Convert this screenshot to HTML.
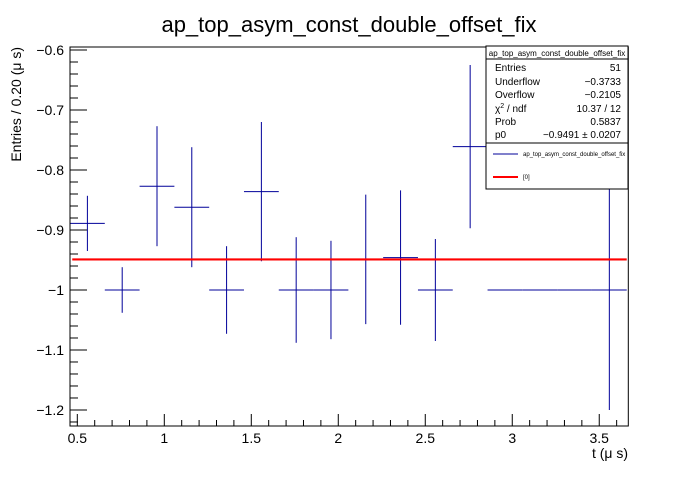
<!DOCTYPE html>
<html><head><meta charset="utf-8"><style>
body{margin:0;background:#fff;}
svg text{font-family:"Liberation Sans",sans-serif;}
</style></head><body>
<svg id="c" width="698" height="474" viewBox="0 0 698 474" xmlns="http://www.w3.org/2000/svg">
<text x="349" y="32" font-size="22" text-anchor="middle">ap_top_asym_const_double_offset_fix</text>
<g id="axes"></g>
<g id="marks"></g>
<rect x="70" y="47" width="558.3" height="379" fill="none" stroke="#000" stroke-width="1"/>
<text x="628" y="458" font-size="14" text-anchor="end">t (μ s)</text>
<text transform="translate(21,47) rotate(-90)" font-size="14" text-anchor="end">Entries / 0.20 (μ s)</text>
<g>
<rect x="486" y="46" width="142" height="143" fill="#fff" stroke="#000"/>
<line x1="486" y1="59" x2="628" y2="59" stroke="#000"/>
<text x="557" y="56" font-size="8" text-anchor="middle">ap_top_asym_const_double_offset_fix</text>
<g font-size="10">
<text x="495" y="71">Entries</text><text x="621" y="71" text-anchor="end">51</text>
<text x="495" y="85">Underflow</text><text x="621" y="85" text-anchor="end">−0.3733</text>
<text x="495" y="98">Overflow</text><text x="621" y="98" text-anchor="end">−0.2105</text>
<text x="495" y="112">χ<tspan font-size="7" dy="-4">2</tspan><tspan dy="4"> / ndf</tspan></text><text x="621" y="112" text-anchor="end">10.37 / 12</text>
<text x="495" y="125">Prob</text><text x="621" y="125" text-anchor="end">0.5837</text>
<text x="495" y="138">p0</text><text x="621" y="138" text-anchor="end">−0.9491 ± 0.0207</text>
</g>
<line x1="486" y1="143" x2="628" y2="143" stroke="#000"/>
<line x1="493" y1="154" x2="518" y2="154" stroke="#000099" stroke-width="1"/>
<text x="523" y="156" font-size="6">ap_top_asym_const_double_offset_fix</text>
<line x1="493" y1="177" x2="518" y2="177" stroke="#ff0000" stroke-width="2"/>
<text x="523" y="179" font-size="6">[0]</text>
</g>
</svg>
<script>
const centers=[0.558,0.758,0.958,1.158,1.358,1.558,1.758,1.958,2.158,2.358,2.558,2.758,2.958,3.158,3.358,3.558];
const values=[-0.889,-1.0,-0.827,-0.862,-1.0,-0.836,-1.0,-1.0,-0.949,-0.946,-1.0,-0.761,-1.0,-1.0,-1.0,-1.0];
const errors=[0.046,0.038,0.1,0.1,0.073,0.116,0.088,0.082,0.108,0.112,0.085,0.136,0,0,0,0.2];
const fitValue=[-0.9491];
const xTicks=[0.5,1,1.5,2,2.5,3,3.5];
const xTickLabels=["0.5","1","1.5","2","2.5","3","3.5"];
const yTicks=[-0.6,-0.7,-0.8,-0.9,-1.0,-1.1,-1.2];
const yTickLabels=["−0.6","−0.7","−0.8","−0.9","−1","−1.1","−1.2"];
const binW=0.2, X0=70, X1=628.3, Y0=47, Y1=426;
const xmin=0.458, xmax=3.667, ymin=-1.2267, ymax=-0.5950;
function sx(x){return X0+(x-xmin)/(xmax-xmin)*(X1-X0);}
function sy(y){return Y1-(y-ymin)/(ymax-ymin)*(Y1-Y0);}
const NS="http://www.w3.org/2000/svg";
const axes=document.getElementById('axes'), marks=document.getElementById('marks');
function mk(tag,attrs,parent){const e=document.createElementNS(NS,tag);for(const k in attrs)e.setAttribute(k,attrs[k]);parent.appendChild(e);return e;}
// x ticks
for(let v=0.5;v<=xmax+1e-9;v+=0.1){const major=Math.abs(v*2-Math.round(v*2))<1e-6;
 const t=mk('line',{x1:sx(v),x2:sx(v),y1:Y1,y2:Y1-(major?12:6),stroke:'#000'},axes);
 
 }
xTicks.forEach((v,i)=>{const t=mk('text',{x:sx(v),y:Y1+17,'font-size':14,'text-anchor':'middle'},axes);t.textContent=xTickLabels[i];
 
 });
// y ticks
for(let k=-61;k<=-30;k++){const v=k*0.02;if(v<ymin||v>ymax)continue;const major=(k%5===0);
 const t=mk('line',{x1:X0,x2:X0+(major?17:8),y1:sy(v),y2:sy(v),stroke:'#000'},axes);
 
 }
yTicks.forEach((v,i)=>{const t=mk('text',{x:X0-6,y:sy(v)+5,'font-size':14,'text-anchor':'end'},axes);t.textContent=yTickLabels[i];
 
 });
// data
centers.forEach((c,i)=>{const g=mk('g',{},marks);
 
 
 mk('line',{x1:sx(c-binW/2),x2:sx(c+binW/2),y1:sy(values[i]),y2:sy(values[i]),stroke:'#000099','stroke-width':1},g);
 if(errors[i]>0)mk('line',{x1:sx(c),x2:sx(c),y1:sy(values[i]+errors[i]),y2:sy(values[i]-errors[i]),stroke:'#000099','stroke-width':1},g);});
const f=mk('line',{x1:sx(xmin+0.013),x2:sx(3.658),y1:sy(fitValue[0]),y2:sy(fitValue[0]),stroke:'#ff0000','stroke-width':2.2},marks);


</script>
</body></html>
